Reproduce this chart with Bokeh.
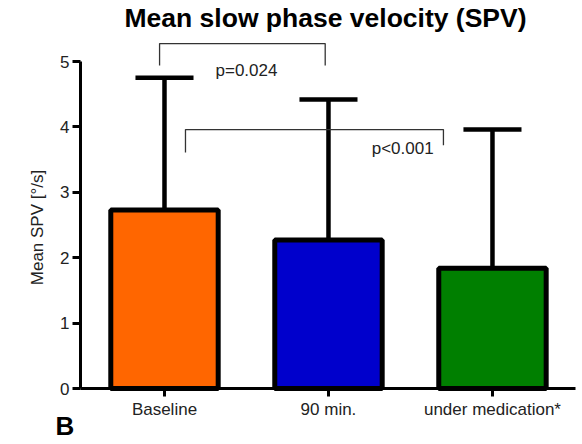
import numpy as np
from bokeh.plotting import figure
from bokeh.models import Range1d, FixedTicker, Label, ColumnDataSource
from bokeh.embed import file_html
from bokeh.resources import INLINE

# ---- data ----
categories = ["Baseline", "90 min.", "under medication*"]
means = [2.73, 2.27, 1.84]
err_top = [4.75, 4.42, 3.96]
bar_colors = ["#FF6600", "#0000CC", "#007F00"]
y_ticks = [0, 1, 2, 3, 4, 5]
comparisons = [(0, 1), (0, 2)]
p_labels = ["p=0.024", "p<0.001"]
bracket_heights = [5.275, 3.96]

FONT = "Liberation Sans"
xs = np.arange(1, len(categories) + 1)

X0 = 0.488  # where the y axis sits
p = figure(width=582, height=444, output_backend="svg", toolbar_location=None,
           x_range=Range1d(0.0, 3.549), y_range=Range1d(-0.856, 5.933),
           min_border_left=0, min_border_right=0, min_border_top=0,
           min_border_bottom=0)
p.outline_line_color = None
p.grid.visible = False
p.background_fill_color = "white"
p.border_fill_color = "white"

src = ColumnDataSource(dict(x=xs, top=means, err=err_top, color=bar_colors))
p.vbar(x="x", top="top", bottom=0, width=0.655, fill_color="color",
       line_color="black", line_width=5, source=src)
# error bars (upper only)
p.segment(x0="x", y0="top", x1="x", y1="err", line_color="black", line_width=4.5, source=src)
cap = 0.177
p.segment(x0=xs - cap, y0=err_top, x1=xs + cap, y1=err_top, line_color="black",
          line_width=4.5, line_cap="butt")

# significance brackets
br_style = dict(line_color="#333333", line_width=1.3)
(a, b), h = comparisons[0], bracket_heights[0]
xa, xb = xs[a] - 0.03, xs[b] - 0.02
p.line([xa, xa, xb, xb], [h - 0.335, h, h, h - 0.335], **br_style)
p.add_layout(Label(x=(xs[a] + xs[b]) / 2, y=4.862, text=p_labels[0], text_align="center",
                   text_baseline="alphabetic",
                   text_font=FONT, text_font_size="17px", text_color="#222222"))
(a, b), h = comparisons[1], bracket_heights[1]
xa, xb = xs[a] + 0.128, xs[b] - 0.299
p.line([xa, xa, xb, xb], [h - 0.35, h, h, h - 0.24], **br_style)
p.add_layout(Label(x=xb - 0.06, y=3.672, text=p_labels[1], text_align="right",
                   text_baseline="alphabetic",
                   text_font=FONT, text_font_size="17px", text_color="#222222"))

# title, y-axis title and panel letter
p.add_layout(Label(x=1.982, y=5.673, text="Mean slow phase velocity (SPV)",
                   text_align="center", text_baseline="alphabetic", text_font=FONT,
                   text_font_style="bold", text_font_size="26.5px", text_color="black"))
p.add_layout(Label(x=0.2256, y=2.462, text="Mean SPV [°/s]", angle=np.pi / 2,
                   text_align="center", text_baseline="middle", text_font=FONT,
                   text_font_size="17px", text_color="#222222"))
p.add_layout(Label(x=0.335, y=-0.57, text="B", text_align="left",
                   text_baseline="alphabetic", text_font=FONT, text_font_style="bold",
                   text_font_size="26px", text_color="black"))

# axes
xa_ = p.xaxis[0]
xa_.ticker = FixedTicker(ticks=list(xs))
xa_.major_label_overrides = {int(x): c for x, c in zip(xs, categories)}
xa_.bounds = (X0, 3.506)
xa_.fixed_location = 0
ya_ = p.yaxis[0]
ya_.ticker = FixedTicker(ticks=y_ticks)
ya_.bounds = (0, 5)
ya_.fixed_location = X0
for ax in (xa_, ya_):
    ax.axis_line_width = 3
    ax.axis_line_color = "black"
    ax.major_tick_line_width = 3
    ax.major_tick_line_color = "black"
    ax.major_tick_out = 8
    ax.major_tick_in = 0
    ax.minor_tick_line_color = None
    ax.major_label_text_font = FONT
    ax.major_label_text_font_size = "17px"
    ax.major_label_text_color = "#222222"
    ax.major_label_standoff = 3

open("out.html", "w").write(file_html(p, INLINE))
